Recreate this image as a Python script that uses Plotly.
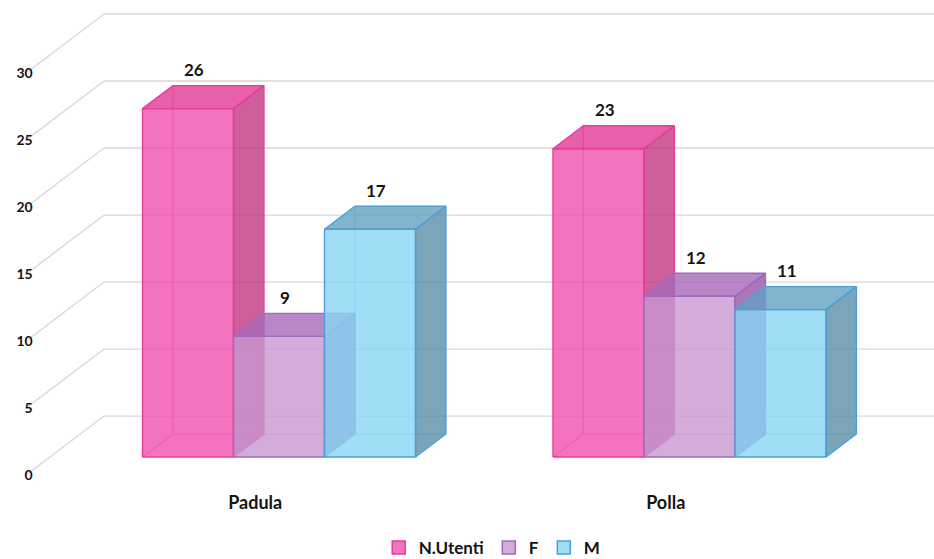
import plotly.graph_objects as go

# ---- data ----
categories = ["Padula", "Polla"]
series_names = ["N.Utenti", "F", "M"]
n_utenti = [26, 23]
f_values = [9, 12]
m_values = [17, 11]
y_ticks = [0, 5, 10, 15, 20, 25, 30]

series_values = [n_utenti, f_values, m_values]

# ---- style ----
FONT = "Lato"
TEXT_COLOR = "#141414"
GRID_COLOR = "rgb(215,215,215)"
ALPHA = 0.8

# per series: front, top, side fills (rgb, drawn with ALPHA) and edge colour
STYLES = [
    dict(front=(240, 80, 174), top=(226, 55, 149), side=(193, 55, 130),
         edge="rgb(232,60,155)", legend="rgb(243,115,190)"),
    dict(front=(201, 151, 209), top=(168, 105, 186), side=(149, 86, 168),
         edge="rgb(160,105,190)", legend="rgb(212,172,218)"),
    dict(front=(136, 214, 243), top=(99, 161, 193), side=(93, 143, 168),
         edge="rgb(75,160,220)", legend="rgb(160,222,245)"),
]

# ---- oblique 3-D geometry (x in category units, y in value units) ----
BAR_W = 0.2217        # width of one bar
DEPTH_X = 0.19        # horizontal shift across the full floor depth
DEPTH_Y = 4.40        # vertical shift across the full floor depth
BAR_NEAR = 0.305      # depth where the bar front sits (0 = floor front, 1 = back wall)
BAR_FAR = 0.695       # depth of the bar back
WALL_X = -0.558       # front-left corner of the side wall
X_RANGE = [-0.6797, 1.5956]
Y_RANGE = [-2.463, 34.104]
PLOT_BOTTOM = 0.1234


def proj(x, v, d):
    return x + (d - BAR_NEAR) * DEPTH_X, v + (d - BAR_NEAR) * DEPTH_Y


def rgba(c, a=ALPHA):
    return f"rgba({c[0]},{c[1]},{c[2]},{a})"


fig = go.Figure()

# gridlines: back wall + diagonal on the left wall
shapes = []
for v in y_ticks:
    fx, fy = proj(WALL_X, v, 0.0)
    bx, by = proj(WALL_X, v, 1.0)
    shapes.append(dict(type="line", xref="x", yref="y", x0=fx, y0=fy, x1=bx, y1=by,
                       line=dict(color=GRID_COLOR, width=1.3), layer="below"))
    shapes.append(dict(type="line", xref="x", yref="y", x0=bx, y0=by, x1=X_RANGE[1] + 0.2, y1=by,
                       line=dict(color=GRID_COLOR, width=1.3), layer="below"))


def polygon(points, fill, edge, width=1.4):
    xs = [p[0] for p in points] + [points[0][0]]
    ys = [p[1] for p in points] + [points[0][1]]
    fig.add_trace(go.Scatter(x=xs, y=ys, mode="lines", fill="toself", fillcolor=fill,
                             line=dict(color=edge, width=width), hoverinfo="skip",
                             showlegend=False))


def segment(p, q, color):
    fig.add_trace(go.Scatter(x=[p[0], q[0]], y=[p[1], q[1]], mode="lines",
                             line=dict(color=color, width=1.2), hoverinfo="skip",
                             showlegend=False))


annotations = []
for ci, cat in enumerate(categories):
    for si, values in enumerate(series_values):
        st = STYLES[si]
        v = values[ci]
        xc = ci + (si - 1) * BAR_W
        x0, x1 = xc - BAR_W / 2, xc + BAR_W / 2
        edge_faint = st["edge"].replace("rgb", "rgba").replace(")", ",0.55)")
        # hidden edges seen through the translucent faces
        segment(proj(x0, 0, BAR_FAR), proj(x0, v, BAR_FAR), edge_faint)
        segment(proj(x0, 0, BAR_FAR), proj(x1, 0, BAR_FAR), edge_faint)
        segment(proj(x0, 0, BAR_NEAR), proj(x0, 0, BAR_FAR), edge_faint)
        # front face
        polygon([(x0, 0), (x1, 0), (x1, v), (x0, v)], rgba(st["front"]), st["edge"])
        # top face
        polygon([proj(x0, v, BAR_NEAR), proj(x1, v, BAR_NEAR),
                 proj(x1, v, BAR_FAR), proj(x0, v, BAR_FAR)], rgba(st["top"]), st["edge"])
        # right side face
        polygon([proj(x1, 0, BAR_NEAR), proj(x1, 0, BAR_FAR),
                 proj(x1, v, BAR_FAR), proj(x1, v, BAR_NEAR)], rgba(st["side"]), st["edge"])
        # value label above the bar
        annotations.append(dict(x=xc, y=v + (BAR_FAR - BAR_NEAR) * DEPTH_Y, xref="x", yref="y",
                                text=str(v), showarrow=False, xshift=6, yshift=16,
                                font=dict(family=FONT, size=17, color=TEXT_COLOR, weight="bold")))

# legend entries
for si, name in enumerate(series_names):
    st = STYLES[si]
    fig.add_trace(go.Scatter(x=[None], y=[None], mode="markers", name=name,
                             marker=dict(symbol="square", size=13, color=st["legend"],
                                         line=dict(color=st["edge"], width=1.5))))

# carrier for the value axis drawn along the front edge of the floor
fig.add_trace(go.Scatter(x=[None], y=[None], yaxis="y2", mode="markers",
                         showlegend=False, hoverinfo="skip"))

shift = BAR_NEAR * DEPTH_Y
fig.update_layout(
    width=934, height=559,
    margin=dict(l=0, r=0, t=0, b=0, autoexpand=False),
    paper_bgcolor="white", plot_bgcolor="white",
    shapes=shapes,
    annotations=annotations,
    xaxis=dict(range=X_RANGE, domain=[0, 1], showgrid=False, zeroline=False, showline=False,
               automargin=False, ticks="",
               tickvals=[i - BAR_NEAR * DEPTH_X for i in range(len(categories))],
               ticktext=categories,
               tickfont=dict(family=FONT, size=18, color=TEXT_COLOR, weight="bold")),
    yaxis=dict(range=Y_RANGE, domain=[PLOT_BOTTOM, 1], showgrid=False, zeroline=False,
               showline=False, showticklabels=False, ticks="", automargin=False),
    yaxis2=dict(range=[Y_RANGE[0] + shift, Y_RANGE[1] + shift], overlaying="y", anchor="free",
                position=0.035, side="left", showgrid=False, zeroline=False, showline=False,
                automargin=False, ticks="", tickvals=y_ticks,
                tickfont=dict(family=FONT, size=14, color=TEXT_COLOR, weight="bold")),
    legend=dict(orientation="h", x=0.527, xanchor="center", y=0.0197, yanchor="middle",
                font=dict(family=FONT, size=17, color=TEXT_COLOR, weight="bold"),
                itemwidth=30, tracegroupgap=0, bgcolor="rgba(0,0,0,0)"),
    showlegend=True,
)

fig.write_html("out.html")
